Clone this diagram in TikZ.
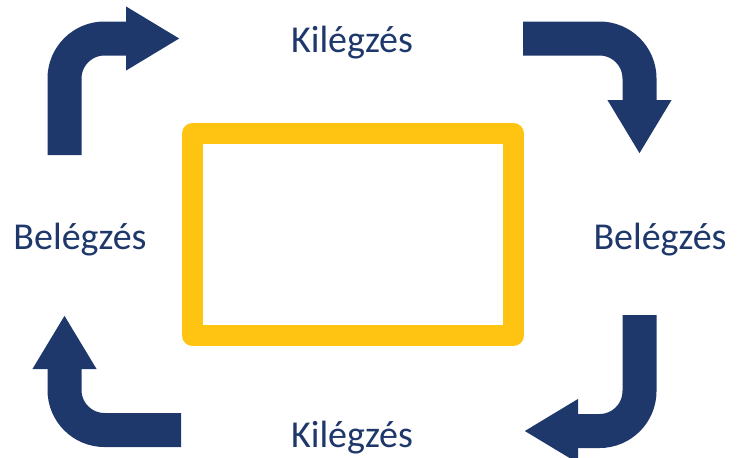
\documentclass[tikz,border=0pt]{standalone}
\usepackage{fontspec}
\setmainfont{Carlito}
\usepackage{xcolor}
\usetikzlibrary{arrows.meta}

\definecolor{navy}{RGB}{31,56,107}
\definecolor{gold}{RGB}{255,195,18}

\begin{document}
\begin{tikzpicture}[
    x=0.5pt, y=-0.5pt,
    label/.style={anchor=base, inner sep=0pt, text=navy,
                  font=\fontsize{19pt}{22pt}\selectfont},
    frame/.style={draw=gold, line width=10.5pt, line join=round},
    bigarrow/.style={-{Triangle[length=27pt, width=30pt]}, draw=navy,
                     line width=17pt, rounded corners=20pt}
]
    \useasboundingbox (0,0) rectangle (742,457);

    \node[label] (exTop) at (352,52.7)  {Kilégzés};
    \node[label] (exBot) at (352,447.7) {Kilégzés};
    \node[label] (inL)   at (80,249.3)  {Belégzés};
    \node[label] (inR)   at (660,249.3) {Belégzés};

    \draw[frame] (192.5,133.5) rectangle (513.5,335.5);

    % arrow ends
    \coordinate (tlS) at (64.5,155);
    \coordinate (tlE) at (180,38.5);
    \coordinate (trS) at (523,38.5);
    \coordinate (trE) at (639.5,154);
    \coordinate (brS) at (639.5,315);
    \coordinate (brE) at (524,431);
    \coordinate (blS) at (181,430);
    \coordinate (blE) at (64.5,315);

    \draw[bigarrow] (tlS) |- (tlE);
    \draw[bigarrow] (trS) -| (trE);
    \draw[bigarrow] (brS) |- (brE);
    \draw[bigarrow] (blS) -| (blE);
\end{tikzpicture}
\end{document}
